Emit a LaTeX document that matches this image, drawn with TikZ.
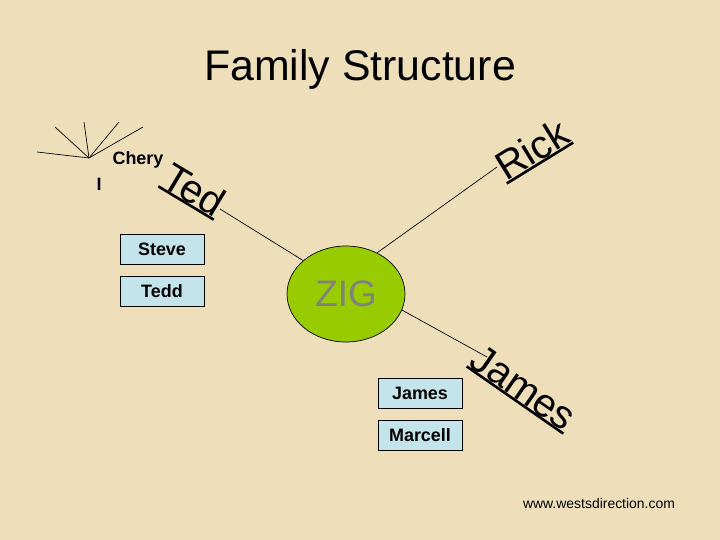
\documentclass[tikz,border=0pt]{standalone}
\usepackage{fontspec}
\setmainfont{Liberation Sans}
\usetikzlibrary{shapes.geometric}
\definecolor{parchment}{RGB}{238,223,186}
\definecolor{zigfill}{RGB}{153,204,0}
\definecolor{boxfill}{RGB}{196,228,236}
\begin{document}
\begin{tikzpicture}[x=1bp, y=-1bp,
    namebox/.style={draw, fill=boxfill, minimum width=84bp, minimum height=30bp, inner sep=0pt, font=\bfseries\fontsize{18}{21}\selectfont},
    branch/.style={anchor=south, inner xsep=0pt, inner ysep=1bp, font=\fontsize{40}{48}\selectfont},
    underline/.style={line width=2.6bp, line cap=butt},
    thinline/.style={line width=0.7bp}]
    % Background
    \fill[parchment] (0,0) rectangle (720,540);
    \useasboundingbox (0,0) rectangle (720,540);

    % Title
    \node[font=\fontsize{43}{51}\selectfont] (title) at (360,69) {Family Structure};

    % Centre
    \node[ellipse, draw, thinline, fill=zigfill, minimum width=118bp, minimum height=96bp, text=gray, font=\fontsize{37}{44}\selectfont] (zig) at (346,294) {ZIG};

    % Branches
    \node[branch, rotate=-31] (ted) at (186,203) {Ted};
    \node[branch, rotate=31.6] (rick) at (540,163) {Rick};
    \node[branch, rotate=-34.8] (james) at (515,400) {James};
    \draw[underline] (ted.south west) -- (ted.south east);
    \draw[underline] (rick.south west) -- (rick.south east);
    \draw[underline] (james.south west) -- (james.south east);

    \coordinate (tedend) at (220,209);
    \coordinate (rickend) at (497,167);
    \coordinate (jamesend) at (487,357);
    \draw[thinline] (zig.142) -- (tedend);
    \draw[thinline] (zig.53) -- (rickend);
    \draw[thinline] (zig.-16) -- (jamesend);

    % Fan near Chery
    \coordinate (fan) at (89,158);
    \coordinate (fan1) at (37,152);
    \coordinate (fan2) at (55,127);
    \coordinate (fan3) at (84,122);
    \coordinate (fan4) at (119,122);
    \coordinate (fan5) at (143,127);
    \foreach \k in {1,...,5}
        \draw[thinline] (fan) -- (fan\k);
    \node[font=\bfseries\fontsize{18}{21}\selectfont] (chery) at (138,160) {Chery};
    \node[font=\bfseries\fontsize{18}{21}\selectfont] (chery2) at (99,184) {I};

    % Boxes
    \node[namebox] (steve) at (162,249) {Steve};
    \node[namebox] (tedd) at (162,291.5) {Tedd};
    \node[namebox] (jamesbox) at (420,393) {James};
    \node[namebox] (marcell) at (420,435) {Marcell};

    % Footer
    \node[font=\fontsize{14}{17}\selectfont] (web) at (599,504) {www.westsdirection.com};
\end{tikzpicture}
\end{document}
